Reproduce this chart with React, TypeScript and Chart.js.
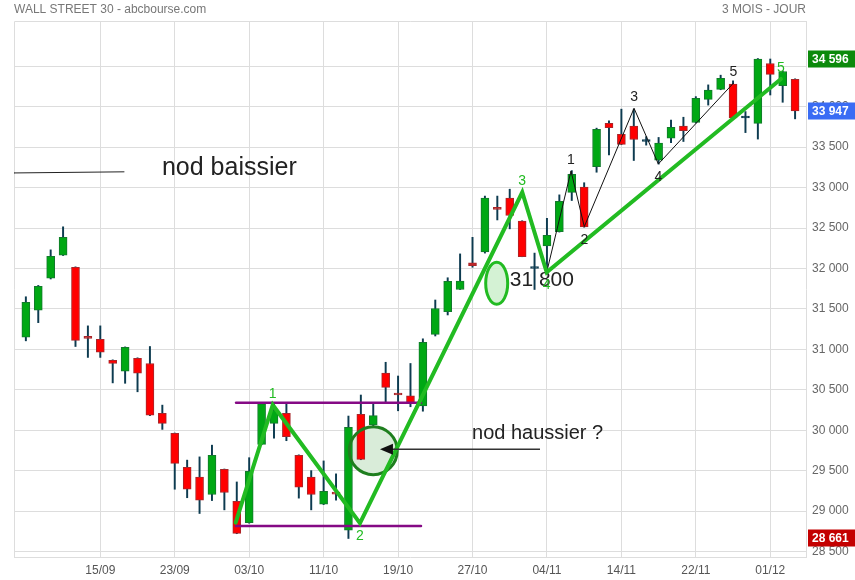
import React, { useEffect, useRef } from 'react';
import { Chart, registerables } from 'chart.js';

Chart.register(...registerables);

// ---- Daily candles (Wall Street 30, 07/09 → 05/12) ----
const opens = [31150, 31485, 31880, 32165, 32015, 31150, 31125, 30865, 30730, 30890, 30825, 30210, 29960, 29540, 29420, 29205, 29515, 29120, 28855, 29825, 30085, 30210, 29690, 29420, 29085, 29230, 28765, 30195, 30065, 30705, 30450, 30425, 30300, 31185, 31465, 31740, 32070, 32205, 32755, 32870, 32585, 32000, 32280, 32455, 32940, 33005, 33260, 33795, 33660, 33760, 33570, 33340, 33610, 33760, 33805, 34090, 34215, 34280, 33860, 33795, 34535, 34260, 34340];
const highs = [31650, 31790, 32230, 32515, 32020, 31290, 31290, 30870, 31030, 30895, 31035, 30310, 29965, 29630, 29670, 29815, 29520, 29360, 29660, 30330, 30325, 30325, 29695, 29500, 29620, 29460, 30175, 30435, 30335, 30840, 30670, 30825, 31130, 31610, 31885, 32180, 32385, 32895, 32895, 32980, 32590, 32190, 32620, 32910, 33210, 33060, 33735, 33825, 33970, 33970, 33630, 33620, 33835, 33870, 34125, 34270, 34390, 34320, 33940, 34596, 34590, 34440, 34345];
const lows = [31105, 31330, 31870, 32160, 31035, 30900, 30900, 30585, 30580, 30475, 30180, 30010, 29270, 29165, 28970, 29130, 29015, 28720, 28850, 29820, 29900, 29870, 29160, 29015, 29080, 29135, 28661, 29635, 30030, 30335, 30240, 30290, 30235, 31165, 31425, 31740, 32015, 32190, 32600, 32490, 32145, 31740, 31940, 32450, 32840, 32510, 33190, 33405, 33530, 33335, 33525, 33290, 33555, 33570, 33800, 34020, 34210, 33850, 33680, 33600, 34145, 34055, 33850];
const closes = [31580, 31780, 32150, 32385, 31110, 31135, 30965, 30825, 31025, 30705, 30185, 30085, 29590, 29270, 29135, 29690, 29230, 28725, 29490, 30325, 30250, 29920, 29295, 29205, 29245, 29210, 30035, 29640, 30180, 30530, 30435, 30335, 31085, 31505, 31840, 31845, 32035, 32870, 32730, 32655, 32145, 32000, 32410, 32830, 33165, 32515, 33720, 33740, 33535, 33595, 33570, 33550, 33745, 33705, 34105, 34205, 34350, 33860, 33860, 34590, 34400, 34435, 33947];

// x-axis labels (every 6th session)
const tickIndices = [6, 12, 18, 24, 30, 36, 42, 48, 54, 60];
const tickLabels = ['15/09', '23/09', '03/10', '11/10', '19/10', '27/10', '04/11', '14/11', '22/11', '01/12'];
const yTicks = [28500, 29000, 29500, 30000, 30500, 31000, 31500, 32000, 32500, 33000, 33500, 34000, 34500];

// ---- Drawn annotations (in session index / price units) ----
const greenWaveX = [16.91, 19.9, 26.93, 40.01, 41.98, 60.86];
const greenWaveY = [28856, 30312, 28850, 32942, 31953, 34343];
const greenWaveLabels = ['', '1', '2', '3', '4', '5'];

const blackWaveX = [41.98, 43.94, 45.01, 49.02, 50.98, 57.02];
const blackWaveY = [31953, 33205, 32517, 33981, 33292, 34290];
const blackWaveLabels = ['', '1', '2', '3', '4', '5'];

const rangeX = [16.94, 31.85];
const rangeTopY = 30340;
const rangeBottomY = 28815;

const baissierLineX = [-0.96, 7.91];
const baissierLineY = [33181, 33195];

const circleCenter = { x: 28.0, y: 29747 };
const ellipseCenter = { x: 37.95, y: 31817 };
const arrowFromX = 41.44;
const arrowToX = 28.54;
const arrowY = 29764;
const levelText = '31 800';
const levelTextPos = { x: 39.0, y: 31783 };
const haussierText = 'nod haussier ?';
const haussierPos = { x: 35.96, y: 29890 };
const baissierText = 'nod baissier';
const baissierPos = { x: 10.97, y: 33160 };

const titleLeft = 'WALL STREET 30 - abcbourse.com';
const titleRight = '3 MOIS - JOUR';

const FONT = '"Liberation Sans", Arial, Helvetica, sans-serif';

const fmt = (v: number) => String(Math.round(v)).replace(/\B(?=(\d{3})+(?!\d))/g, ' ');

export default function App() {
  const ref = useRef<HTMLCanvasElement>(null);

  useEffect(() => {
    document.body.style.margin = '0';
    const canvas = ref.current;
    if (!canvas) return;

    const idx = opens.map((_, i) => i);
    const isCross = (i: number) => Math.abs(closes[i] - opens[i]) < 1;
    const bodyFill = idx.map((i) =>
      isCross(i) ? '#0d3b50' : closes[i] > opens[i] ? '#00a814' : Math.abs(closes[i] - opens[i]) < 40 ? '#c0282a' : '#ff0000'
    );
    const bodyBorder = idx.map((i) =>
      isCross(i) ? '#0d3b50' : closes[i] > opens[i] ? '#127a2c' : '#a8262a'
    );

    const highest = Math.max(...highs);
    const lowest = Math.min(...lows);
    const last = closes[closes.length - 1];

    const annotations = {
      id: 'annotations',
      beforeDatasetsDraw(chart: any) {
        const { ctx, chartArea: a } = chart;
        const xs = chart.scales.x;
        const ys = chart.scales.y;
        ctx.save();
        ctx.strokeStyle = '#dddddd';
        ctx.lineWidth = 1;
        ctx.beginPath();
        ctx.moveTo(Math.round(a.left) + 0.5, Math.round(a.bottom));
        ctx.lineTo(Math.round(a.left) + 0.5, Math.round(a.top) + 0.5);
        ctx.lineTo(Math.round(a.right), Math.round(a.top) + 0.5);
        ctx.stroke();
        // circle fill (under the candles)
        const cx = xs.getPixelForValue(circleCenter.x);
        const cy = ys.getPixelForValue(circleCenter.y);
        ctx.beginPath();
        ctx.arc(cx, cy, 24, 0, Math.PI * 2);
        ctx.fillStyle = '#d9ecd9';
        ctx.fill();
        // free text that sits beneath the candles
        ctx.textAlign = 'left';
        ctx.textBaseline = 'alphabetic';
        ctx.fillStyle = '#222';
        ctx.font = `21px ${FONT}`;
        ctx.fillText(levelText, xs.getPixelForValue(levelTextPos.x), ys.getPixelForValue(levelTextPos.y));
        ctx.restore();
      },
      afterDatasetDraw(chart: any, args: any) {
        if (args.index !== 0) return;
        const { ctx } = chart;
        const xs = chart.scales.x;
        const ys = chart.scales.y;
        ctx.save();
        // circle outline
        const cx = xs.getPixelForValue(circleCenter.x);
        const cy = ys.getPixelForValue(circleCenter.y);
        ctx.beginPath();
        ctx.arc(cx, cy, 24, 0, Math.PI * 2);
        ctx.lineWidth = 3;
        ctx.strokeStyle = '#1f7f1f';
        ctx.stroke();
        // ellipse
        const ex = xs.getPixelForValue(ellipseCenter.x);
        const ey = ys.getPixelForValue(ellipseCenter.y);
        ctx.beginPath();
        ctx.ellipse(ex, ey, 11, 21, 0, 0, Math.PI * 2);
        ctx.fillStyle = 'rgba(205, 240, 205, 0.85)';
        ctx.fill();
        ctx.lineWidth = 3;
        ctx.strokeStyle = '#22bb22';
        ctx.stroke();
        ctx.restore();
      },
      afterDatasetsDraw(chart: any) {
        const { ctx, chartArea: a } = chart;
        const xs = chart.scales.x;
        const ys = chart.scales.y;
        ctx.save();
        // arrow
        const ax1 = xs.getPixelForValue(arrowFromX);
        const ax2 = xs.getPixelForValue(arrowToX);
        const ay = ys.getPixelForValue(arrowY);
        ctx.strokeStyle = '#333';
        ctx.lineWidth = 1.5;
        ctx.beginPath();
        ctx.moveTo(ax1, ay);
        ctx.lineTo(ax2 + 10, ay);
        ctx.stroke();
        ctx.fillStyle = '#111';
        ctx.beginPath();
        ctx.moveTo(ax2, ay);
        ctx.lineTo(ax2 + 13, ay - 5.5);
        ctx.lineTo(ax2 + 13, ay + 5.5);
        ctx.closePath();
        ctx.fill();

        // free texts
        ctx.textAlign = 'left';
        ctx.textBaseline = 'alphabetic';
        ctx.fillStyle = '#222';
        ctx.font = `20px ${FONT}`;
        ctx.fillText(haussierText, xs.getPixelForValue(haussierPos.x), ys.getPixelForValue(haussierPos.y));
        ctx.font = `25px ${FONT}`;
        ctx.fillText(baissierText, xs.getPixelForValue(baissierPos.x), ys.getPixelForValue(baissierPos.y));

        // wave labels
        const drawLabels = (xv: number[], yv: number[], labels: string[], color: string) => {
          ctx.fillStyle = color;
          ctx.font = `14px ${FONT}`;
          ctx.textAlign = 'center';
          ctx.textBaseline = 'middle';
          for (let i = 0; i < labels.length; i++) {
            if (!labels[i]) continue;
            const peak = i === 0 ? true : yv[i] > yv[i - 1];
            const px = xs.getPixelForValue(xv[i]);
            const py = ys.getPixelForValue(yv[i]);
            ctx.fillText(labels[i], px, peak ? py - 11 : py + 13);
          }
        };
        drawLabels(greenWaveX, greenWaveY, greenWaveLabels, '#22bb22');
        drawLabels(blackWaveX, blackWaveY, blackWaveLabels, '#222');

        // header
        ctx.font = `12px ${FONT}`;
        ctx.fillStyle = '#777';
        ctx.textBaseline = 'alphabetic';
        ctx.textAlign = 'left';
        ctx.fillText(titleLeft, a.left, 13);
        ctx.textAlign = 'right';
        ctx.fillText(titleRight, a.right, 13);

        // price boxes
        const box = (v: number, bg: string) => {
          const py = ys.getPixelForValue(v);
          ctx.fillStyle = bg;
          ctx.fillRect(a.right + 2, Math.round(py) - 8.5, 60, 17);
          ctx.fillStyle = '#fff';
          ctx.font = `bold 12px ${FONT}`;
          ctx.textAlign = 'left';
          ctx.textBaseline = 'middle';
          ctx.fillText(fmt(v), a.right + 6, Math.round(py) + 0.5);
        };
        box(highest, '#0b8a0b');
        box(last, '#3a6cf4');
        box(lowest, '#c40000');
        ctx.restore();
      },
    };

    const lineDs = (xv: number[], yv: number[], color: string, width: number, order: number) => ({
      type: 'line' as const,
      data: xv.map((x, i) => ({ x, y: yv[i] })),
      borderColor: color,
      borderWidth: width,
      pointRadius: 0,
      fill: false,
      tension: 0,
      order,
      borderCapStyle: 'round' as const,
      borderJoinStyle: 'miter' as const,
    });

    const chart = new Chart(canvas, {
      type: 'bar',
      data: {
        datasets: [
          {
            type: 'bar',
            data: idx.map((i) => ({ x: i, y: [opens[i], closes[i]] })) as any,
            backgroundColor: bodyFill,
            borderColor: bodyBorder,
            borderWidth: 1,
            borderSkipped: false,
            barThickness: 8,
            minBarLength: 2,
            grouped: false,
            order: 5,
          } as any,
          {
            type: 'bar',
            data: idx.map((i) => ({ x: i, y: [lows[i], highs[i]] })) as any,
            backgroundColor: '#0d3b50',
            borderWidth: 0,
            barThickness: 1.3,
            grouped: false,
            order: 6,
          } as any,
          lineDs(greenWaveX, greenWaveY, '#22bb22', 4, 0) as any,
          lineDs(blackWaveX, blackWaveY, '#111', 1, 1) as any,
          lineDs(rangeX, [rangeTopY, rangeTopY], '#850a85', 2.5, 2) as any,
          lineDs(rangeX, [rangeBottomY, rangeBottomY], '#850a85', 2.5, 2) as any,
          lineDs(baissierLineX, baissierLineY, '#222', 1, 2) as any,
        ],
      },
      options: {
        responsive: false,
        animation: false,
        events: [],
        layout: { padding: { left: 14, top: 21, right: 0, bottom: 0 } },
        plugins: { legend: { display: false }, tooltip: { enabled: false }, title: { display: false } },
        scales: {
          x: {
            type: 'linear',
            min: -0.956,
            max: 62.88,
            offset: false,
            grid: { color: '#dddddd', lineWidth: 1, drawTicks: false, offset: false },
            border: { display: true, color: '#dddddd' },
            ticks: {
              color: '#555',
              font: { family: FONT, size: 12 },
              padding: 6,
              autoSkip: false,
              maxRotation: 0,
              callback: (v: any) => {
                const k = tickIndices.indexOf(Number(v));
                return k >= 0 ? tickLabels[k] : '';
              },
            },
            afterBuildTicks: (scale: any) => {
              scale.ticks = tickIndices.map((v) => ({ value: v }));
            },
            afterFit: (scale: any) => {
              scale.height = 23;
            },
          },
          y: {
            type: 'linear',
            position: 'right',
            min: 28432,
            max: 35060,
            grid: { color: '#dddddd', lineWidth: 1, drawTicks: false },
            border: { display: true, color: '#dddddd' },
            ticks: {
              color: '#666',
              font: { family: FONT, size: 12 },
              padding: 6,
              callback: (v: any) => (Math.abs(Number(v) - highest) < 100 ? '' : fmt(Number(v))),
            },
            afterBuildTicks: (scale: any) => {
              scale.ticks = yTicks.map((v) => ({ value: v }));
            },
            afterFit: (scale: any) => {
              scale.width = 49;
            },
          },
        },
      } as any,
      plugins: [annotations],
    });

    return () => chart.destroy();
  }, []);

  return (
    <div style={{ position: 'absolute', left: 0, top: 0, width: 855, height: 580, background: '#fff' }}>
      <canvas ref={ref} width={855} height={580} style={{ display: 'block' }} />
    </div>
  );
}
